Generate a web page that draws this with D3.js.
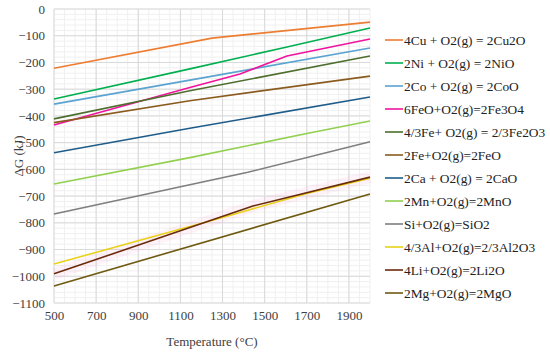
<!DOCTYPE html>
<meta charset="utf-8">
<style>
body { margin: 0; background: #fff; }
svg text { font-family: "Liberation Serif", "Times New Roman", serif; }
</style>
<svg width="550" height="352"></svg>
<script src="https://d3js.org/d3.v7.min.js"></script>
<script>

// reaction labels (legend order)
var names = ["4Cu + O2(g) = 2Cu2O", "2Ni + O2(g) = 2NiO", "2Co + O2(g) = 2CoO",
  "6FeO+O2(g)=2Fe3O4", "4/3Fe+ O2(g) = 2/3Fe2O3", "2Fe+O2(g)=2FeO",
  "2Ca + O2(g) = 2CaO", "2Mn+O2(g)=2MnO", "Si+O2(g)=SiO2",
  "4/3Al+O2(g)=2/3Al2O3", "4Li+O2(g)=2Li2O", "2Mg+O2(g)=2MgO"];
var colors = ["#ED7D31", "#00B050", "#5BA3D0", "#F0139E", "#4E6E2E", "#8B5A1E",
  "#1F5C8A", "#92D050", "#7F7F7F", "#E8D21A", "#6B2A0A", "#6E5A10"];

// temperature (°C) and dG (kJ)
var tCu = [500, 1250, 2000],            gCu = [-222, -109, -49];
var tNi = [500, 1145, 1606, 2000],      gNi = [-337, -224, -142, -71];
var tCo = [500, 1145, 2000],            gCo = [-356, -266, -146];
var tFe3O4 = [500, 1145, 1383, 1606, 2000], gFe3O4 = [-434, -294, -243, -176, -112];
var tFe2O3 = [500, 1145, 2000],         gFe2O3 = [-411, -306, -176];
var tFeO = [500, 1145, 2000],           gFeO = [-425, -343, -251];
var tCa = [500, 1145, 2000],            gCa = [-538, -446, -329];
var tMn = [500, 1145, 1700, 2000],      gMn = [-655, -556, -466, -419];
var tSi = [500, 1420, 2000],            gSi = [-767, -611, -497];
var tAl = [500, 1300, 1700, 2000],      gAl = [-954, -780, -690, -633];
var tLi = [500, 1444, 2000],            gLi = [-991, -737, -629];
var tMg = [500, 2000],                  gMg = [-1036, -692];

var temps = [tCu, tNi, tCo, tFe3O4, tFe2O3, tFeO, tCa, tMn, tSi, tAl, tLi, tMg];
var dGs = [gCu, gNi, gCo, gFe3O4, gFe2O3, gFeO, gCa, gMn, gSi, gAl, gLi, gMg];

var xTicks = [500, 700, 900, 1100, 1300, 1500, 1700, 1900];
var yTicks = d3.range(-1100, 1, 100);

var svg = d3.select("svg");
var pLeft = 54, pRight = 370, pTop = 9, pBottom = 303;
var serif = "'Liberation Serif', 'Times New Roman', serif";

var x = d3.scaleLinear().domain([500, 2000]).range([pLeft, pRight]);
var y = d3.scaleLinear().domain([-1100, 0]).range([pBottom, pTop]);

// minor grid
var grid = svg.append("g");
grid.selectAll(".mx").data(d3.range(500, 2001, 50)).enter().append("line")
  .attr("x1", d => x(d)).attr("x2", d => x(d)).attr("y1", pTop).attr("y2", pBottom)
  .attr("stroke", "#f0f0f0");
grid.selectAll(".my").data(d3.range(-1100, 1, 20)).enter().append("line")
  .attr("y1", d => y(d)).attr("y2", d => y(d)).attr("x1", pLeft).attr("x2", pRight)
  .attr("stroke", "#f0f0f0");
// major grid
grid.selectAll(".Mx").data(xTicks).enter().append("line")
  .attr("x1", d => x(d)).attr("x2", d => x(d)).attr("y1", pTop).attr("y2", pBottom)
  .attr("stroke", "#d9d9d9");
grid.selectAll(".My").data(yTicks).enter().append("line")
  .attr("y1", d => y(d)).attr("y2", d => y(d)).attr("x1", pLeft).attr("x2", pRight)
  .attr("stroke", "#d9d9d9");

// axes (labels only)
svg.append("g").attr("transform", "translate(0," + (pBottom + 5) + ")")
  .call(d3.axisBottom(x).tickValues(xTicks).tickSize(0).tickFormat(d3.format("d")))
  .call(g => g.select(".domain").remove())
  .attr("font-family", serif).attr("font-size", 13)
  .selectAll("text").attr("fill", "#404040");
svg.append("g").attr("transform", "translate(" + (pLeft - 6) + ",0)")
  .call(d3.axisLeft(y).tickValues(yTicks).tickSize(0).tickFormat(d3.format("d")))
  .call(g => g.select(".domain").remove())
  .attr("font-family", serif).attr("font-size", 13)
  .selectAll("text").attr("fill", "#404040");

svg.append("text").attr("x", 212).attr("y", 346).attr("text-anchor", "middle")
  .attr("font-family", serif).attr("font-size", 13).attr("fill", "#404040")
  .text("Temperature (°C)");
svg.append("text").attr("transform", "translate(23,156) rotate(-90)")
  .attr("text-anchor", "middle").attr("font-family", serif).attr("font-size", 13)
  .attr("fill", "#404040").text("ΔG (kJ)");

var line = d3.line().x(d => x(d[0])).y(d => y(d[1]));
var series = names.map((n, i) => ({ name: n, color: colors[i], pts: d3.zip(temps[i], dGs[i]) }));

// faint pink halo seen under the Li line
svg.append("path").datum(series[10].pts).attr("d", line).attr("fill", "none")
  .attr("stroke", "#ff9fd8").attr("stroke-opacity", 0.12).attr("stroke-width", 12);

svg.append("g").selectAll("path").data(series).enter().append("path")
  .attr("d", d => line(d.pts)).attr("fill", "none")
  .attr("stroke", d => d.color).attr("stroke-width", 1.6);

// legend
var lg = svg.append("g").attr("font-family", serif).attr("font-size", 13.4);
var row = lg.selectAll("g").data(series).enter().append("g")
  .attr("transform", (d, i) => "translate(385," + (40 + i * 23) + ")");
row.append("line").attr("x1", 0).attr("x2", 18).attr("stroke", d => d.color).attr("stroke-width", 1.6);
row.append("text").attr("x", 19).attr("dy", "0.35em").attr("fill", "#222").text(d => d.name);

</script>
